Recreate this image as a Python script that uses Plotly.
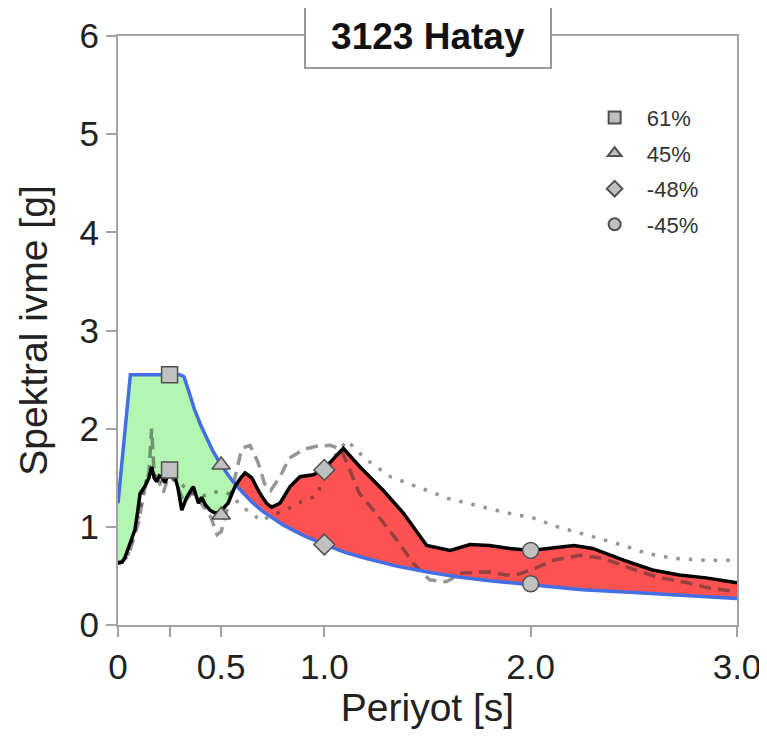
import numpy as np
import plotly.graph_objects as go

# ---------------- data ----------------
period_record = [0, 0.02, 0.034, 0.05, 0.066, 0.082, 0.095, 0.107, 0.13, 0.15, 0.163, 0.175,
                 0.187, 0.2, 0.21, 0.228, 0.252, 0.265, 0.276, 0.29, 0.309, 0.333, 0.35, 0.365,
                 0.39, 0.405, 0.425, 0.446, 0.47, 0.494, 0.533, 0.567, 0.595, 0.616, 0.648,
                 0.688, 0.72, 0.745, 0.785, 0.834, 0.882, 0.946, 0.994, 1.04, 1.092, 1.173,
                 1.286, 1.383, 1.496, 1.61, 1.706, 1.80, 1.90, 2.0, 2.08, 2.21, 2.30, 2.45,
                 2.59, 2.72, 2.85, 3.0]
sa_record = [0.63, 0.64, 0.69, 0.78, 0.87, 0.97, 1.15, 1.34, 1.41, 1.50, 1.61, 1.50,
             1.46, 1.52, 1.51, 1.45, 1.58, 1.56, 1.51, 1.40, 1.17, 1.30, 1.36, 1.41,
             1.24, 1.30, 1.22, 1.17, 1.14, 1.15, 1.24, 1.41, 1.50, 1.55, 1.50,
             1.34, 1.24, 1.20, 1.24, 1.41, 1.51, 1.53, 1.58, 1.68, 1.80, 1.61,
             1.37, 1.14, 0.81, 0.76, 0.82, 0.81, 0.78, 0.76, 0.78, 0.81, 0.78, 0.66,
             0.56, 0.51, 0.48, 0.43]

period_design = [0, 0.06, 0.30, 0.32, 0.34, 0.37, 0.40, 0.43, 0.46, 0.50, 0.55, 0.60, 0.65,
                 0.70, 0.80, 0.90, 1.0, 1.1, 1.2, 1.35, 1.5, 1.65, 1.8, 2.0, 2.25, 2.5,
                 2.75, 3.0]
sa_design = [1.24, 2.55, 2.55, 2.53, 2.40, 2.20, 2.04, 1.90, 1.77, 1.63, 1.48, 1.36, 1.25,
             1.16, 1.02, 0.91, 0.82, 0.74, 0.68, 0.60, 0.54, 0.49, 0.45, 0.41, 0.36, 0.33,
             0.30, 0.27]

period_dash = [0, 0.05, 0.1, 0.13, 0.15, 0.163, 0.175, 0.2, 0.22, 0.25, 0.28, 0.32, 0.36,
               0.4, 0.45, 0.48, 0.5, 0.52, 0.55, 0.6, 0.64, 0.68, 0.71, 0.74, 0.785, 0.83,
               0.9, 0.96, 1.03, 1.08, 1.11, 1.17, 1.25, 1.35, 1.43, 1.51, 1.59, 1.67, 1.8,
               1.88, 1.93, 2.0, 2.11, 2.24, 2.35, 2.48, 2.61, 2.76, 2.88, 3.0]
sa_dash = [0.62, 0.70, 1.05, 1.40, 1.55, 2.00, 1.55, 1.45, 1.35, 1.55, 1.45, 1.25, 1.35,
           1.25, 1.10, 0.92, 0.95, 1.10, 1.35, 1.80, 1.83, 1.65, 1.44, 1.37, 1.51, 1.70,
           1.79, 1.82, 1.83, 1.79, 1.65, 1.34, 1.14, 0.87, 0.63, 0.46, 0.44, 0.53, 0.54,
           0.51, 0.51, 0.56, 0.66, 0.71, 0.68, 0.58, 0.49, 0.43, 0.37, 0.34]

period_dot = [0, 0.05, 0.1, 0.13, 0.17, 0.2, 0.25, 0.3, 0.35, 0.4, 0.45, 0.5, 0.55, 0.6,
              0.65, 0.69, 0.75, 0.82, 0.9, 0.96, 1.0, 1.06, 1.11, 1.2, 1.32, 1.45, 1.6,
              1.77, 1.93, 2.0, 2.13, 2.3, 2.45, 2.56, 2.69, 2.85, 3.0]
sa_dot = [0.63, 0.72, 1.10, 1.45, 1.55, 1.45, 1.50, 1.45, 1.35, 1.30, 1.35, 1.36, 1.33,
          1.20, 1.14, 1.06, 1.12, 1.18, 1.27, 1.31, 1.50, 1.75, 1.88, 1.69, 1.51, 1.41,
          1.29, 1.20, 1.12, 1.10, 1.00, 0.90, 0.81, 0.73, 0.68, 0.66, 0.66]

marker_periods = [0.25, 0.5, 1.0, 2.0]
marker_design = [2.55, 1.63, 0.82, 0.42]
marker_record = [1.58, 1.12, 1.58, 0.76]
marker_labels = ["61%", "45%", "-48%", "-45%"]
marker_symbols = ["square", "triangle-up", "diamond", "circle"]

x_tickvals = [0, 0.25, 0.5, 1.0, 2.0, 3.0]
x_ticktext = ["0", "", "0.5", "1.0", "2.0", "3.0"]
y_tickvals = [0, 1, 2, 3, 4, 5, 6]

title_text = "3123 Hatay"
x_title = "Periyot [s]"
y_title = "Spektral ivme [g]"

# ---------------- styling ----------------
FONT = "Liberation Sans, Arial, sans-serif"
AXIS_GRAY = "#a3a3a3"
GREEN = "rgb(178,246,178)"
RED = "rgb(255,82,82)"
BLUE = "rgb(66,110,230)"
GRAY_LINE = "rgba(45,45,45,0.5)"

# fill geometry between record and design spectra
grid = np.unique(np.concatenate([np.linspace(0, 3, 1501), period_record, period_design]))
rec = np.interp(grid, period_record, sa_record)
des = np.interp(grid, period_design, sa_design)
lo = np.minimum(rec, des)
hi = np.maximum(rec, des)

fig = go.Figure()
nofill = dict(mode="lines", line=dict(width=0), hoverinfo="skip", showlegend=False)
fig.add_trace(go.Scatter(x=grid, y=lo, **nofill))
fig.add_trace(go.Scatter(x=grid, y=des, fill="tonexty", fillcolor=GREEN, **nofill))
fig.add_trace(go.Scatter(x=grid, y=des, **nofill))
fig.add_trace(go.Scatter(x=grid, y=hi, fill="tonexty", fillcolor=RED, **nofill))

fig.add_trace(go.Scatter(x=period_dash, y=sa_dash, mode="lines", showlegend=False,
                         line=dict(color=GRAY_LINE, width=3.5, dash="12px,7px")))
fig.add_trace(go.Scatter(x=period_dot, y=sa_dot, mode="lines", showlegend=False,
                         line=dict(color=GRAY_LINE, width=3.5, dash="3.5px,9px")))
fig.add_trace(go.Scatter(x=period_design, y=sa_design, mode="lines", showlegend=False,
                         line=dict(color=BLUE, width=3.5)))
fig.add_trace(go.Scatter(x=period_record, y=sa_record, mode="lines", showlegend=False,
                         line=dict(color="black", width=3.5)))

NBSP = "\u00a0"
for i in range(len(marker_periods)):
    fig.add_trace(go.Scatter(
        x=[marker_periods[i], marker_periods[i]],
        y=[marker_design[i], marker_record[i]],
        mode="markers", name=NBSP * 2 + marker_labels[i], legendgroup=str(i),
        marker=dict(symbol=marker_symbols[i], size=16, color="#c0c0c0",
                    line=dict(color="#505050", width=1.5)),
    ))

fig.add_annotation(
    text="<b>" + title_text + "</b>", xref="paper", yref="paper", x=0.5, y=1.0,
    xanchor="center", yanchor="middle", showarrow=False,
    font=dict(family=FONT, size=37, color="#111"),
    bgcolor="white", bordercolor="#9a9a9a", borderwidth=2, borderpad=0,
    width=244, height=61,
)

axis_common = dict(
    showline=True, linecolor=AXIS_GRAY, linewidth=2, mirror=True,
    ticks="outside", ticklen=10, tickwidth=2, tickcolor=AXIS_GRAY,
    showgrid=False, zeroline=False,
    tickfont=dict(family=FONT, size=35, color="#222"),
)

fig.update_layout(
    width=767, height=742,
    margin=dict(l=110, r=38, t=28, b=125, autoexpand=False),
    plot_bgcolor="white", paper_bgcolor="white",
    font=dict(family=FONT, color="#222"),
    xaxis=dict(range=[0, 3], tickvals=x_tickvals, ticktext=x_ticktext,
               title=dict(text=x_title, font=dict(family=FONT, size=39, color="#222"), standoff=9),
               **axis_common),
    yaxis=dict(range=[0, 6], tickvals=y_tickvals,
               title=dict(text=y_title, font=dict(family=FONT, size=39, color="#222"), standoff=20),
               **axis_common),
    legend=dict(x=0.770, y=0.897, xanchor="left", yanchor="top",
                bgcolor="rgba(0,0,0,0)", font=dict(family=FONT, size=22, color="#333"),
                tracegroupgap=4, itemsizing="constant"),
)

fig.write_html("out.html")
